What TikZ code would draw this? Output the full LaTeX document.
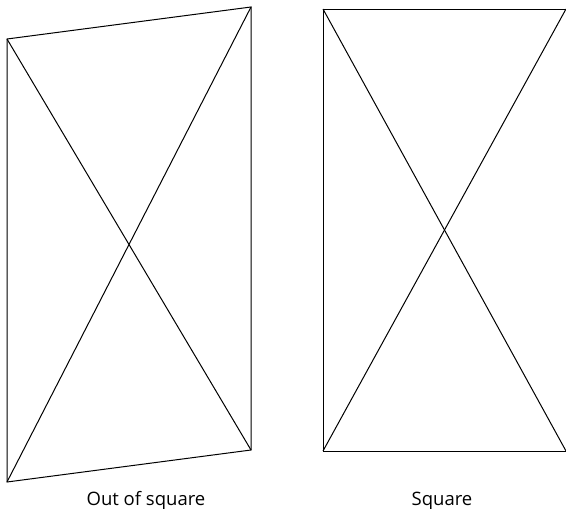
\documentclass[tikz,border=0pt]{standalone}
\usepackage{fontspec}
\setmainfont{Open Sans}
\begin{document}
\begin{tikzpicture}[x=1pt,y=-1pt,
  edge/.style={line width=1pt,black},
  lbl/.style={font=\fontsize{18.5}{22}\selectfont,text=black,inner sep=0pt}]
\useasboundingbox (0,0) rectangle (566,509);
% out of square
\coordinate (a1) at (7,39);
\coordinate (a2) at (251,7);
\coordinate (a3) at (251,450);
\coordinate (a4) at (7,482);
\draw[edge] (a1) -- (a2) -- (a3) -- (a4) -- cycle;
\draw[edge] (a1) -- (a3);
\draw[edge] (a2) -- (a4);
% square
\coordinate (b1) at (323,9);
\coordinate (b2) at (566,9);
\coordinate (b3) at (566,451);
\coordinate (b4) at (323,451);
\draw[edge] (b2) -- (b1) -- (b4) -- (b3);
\draw[edge] (b1) -- (b3);
\draw[edge] (b2) -- (b4);
\node[lbl,anchor=base] (t1) at (146,505) {Out of square};
\node[lbl,anchor=base] (t2) at (442,505) {Square};
\end{tikzpicture}
\end{document}
